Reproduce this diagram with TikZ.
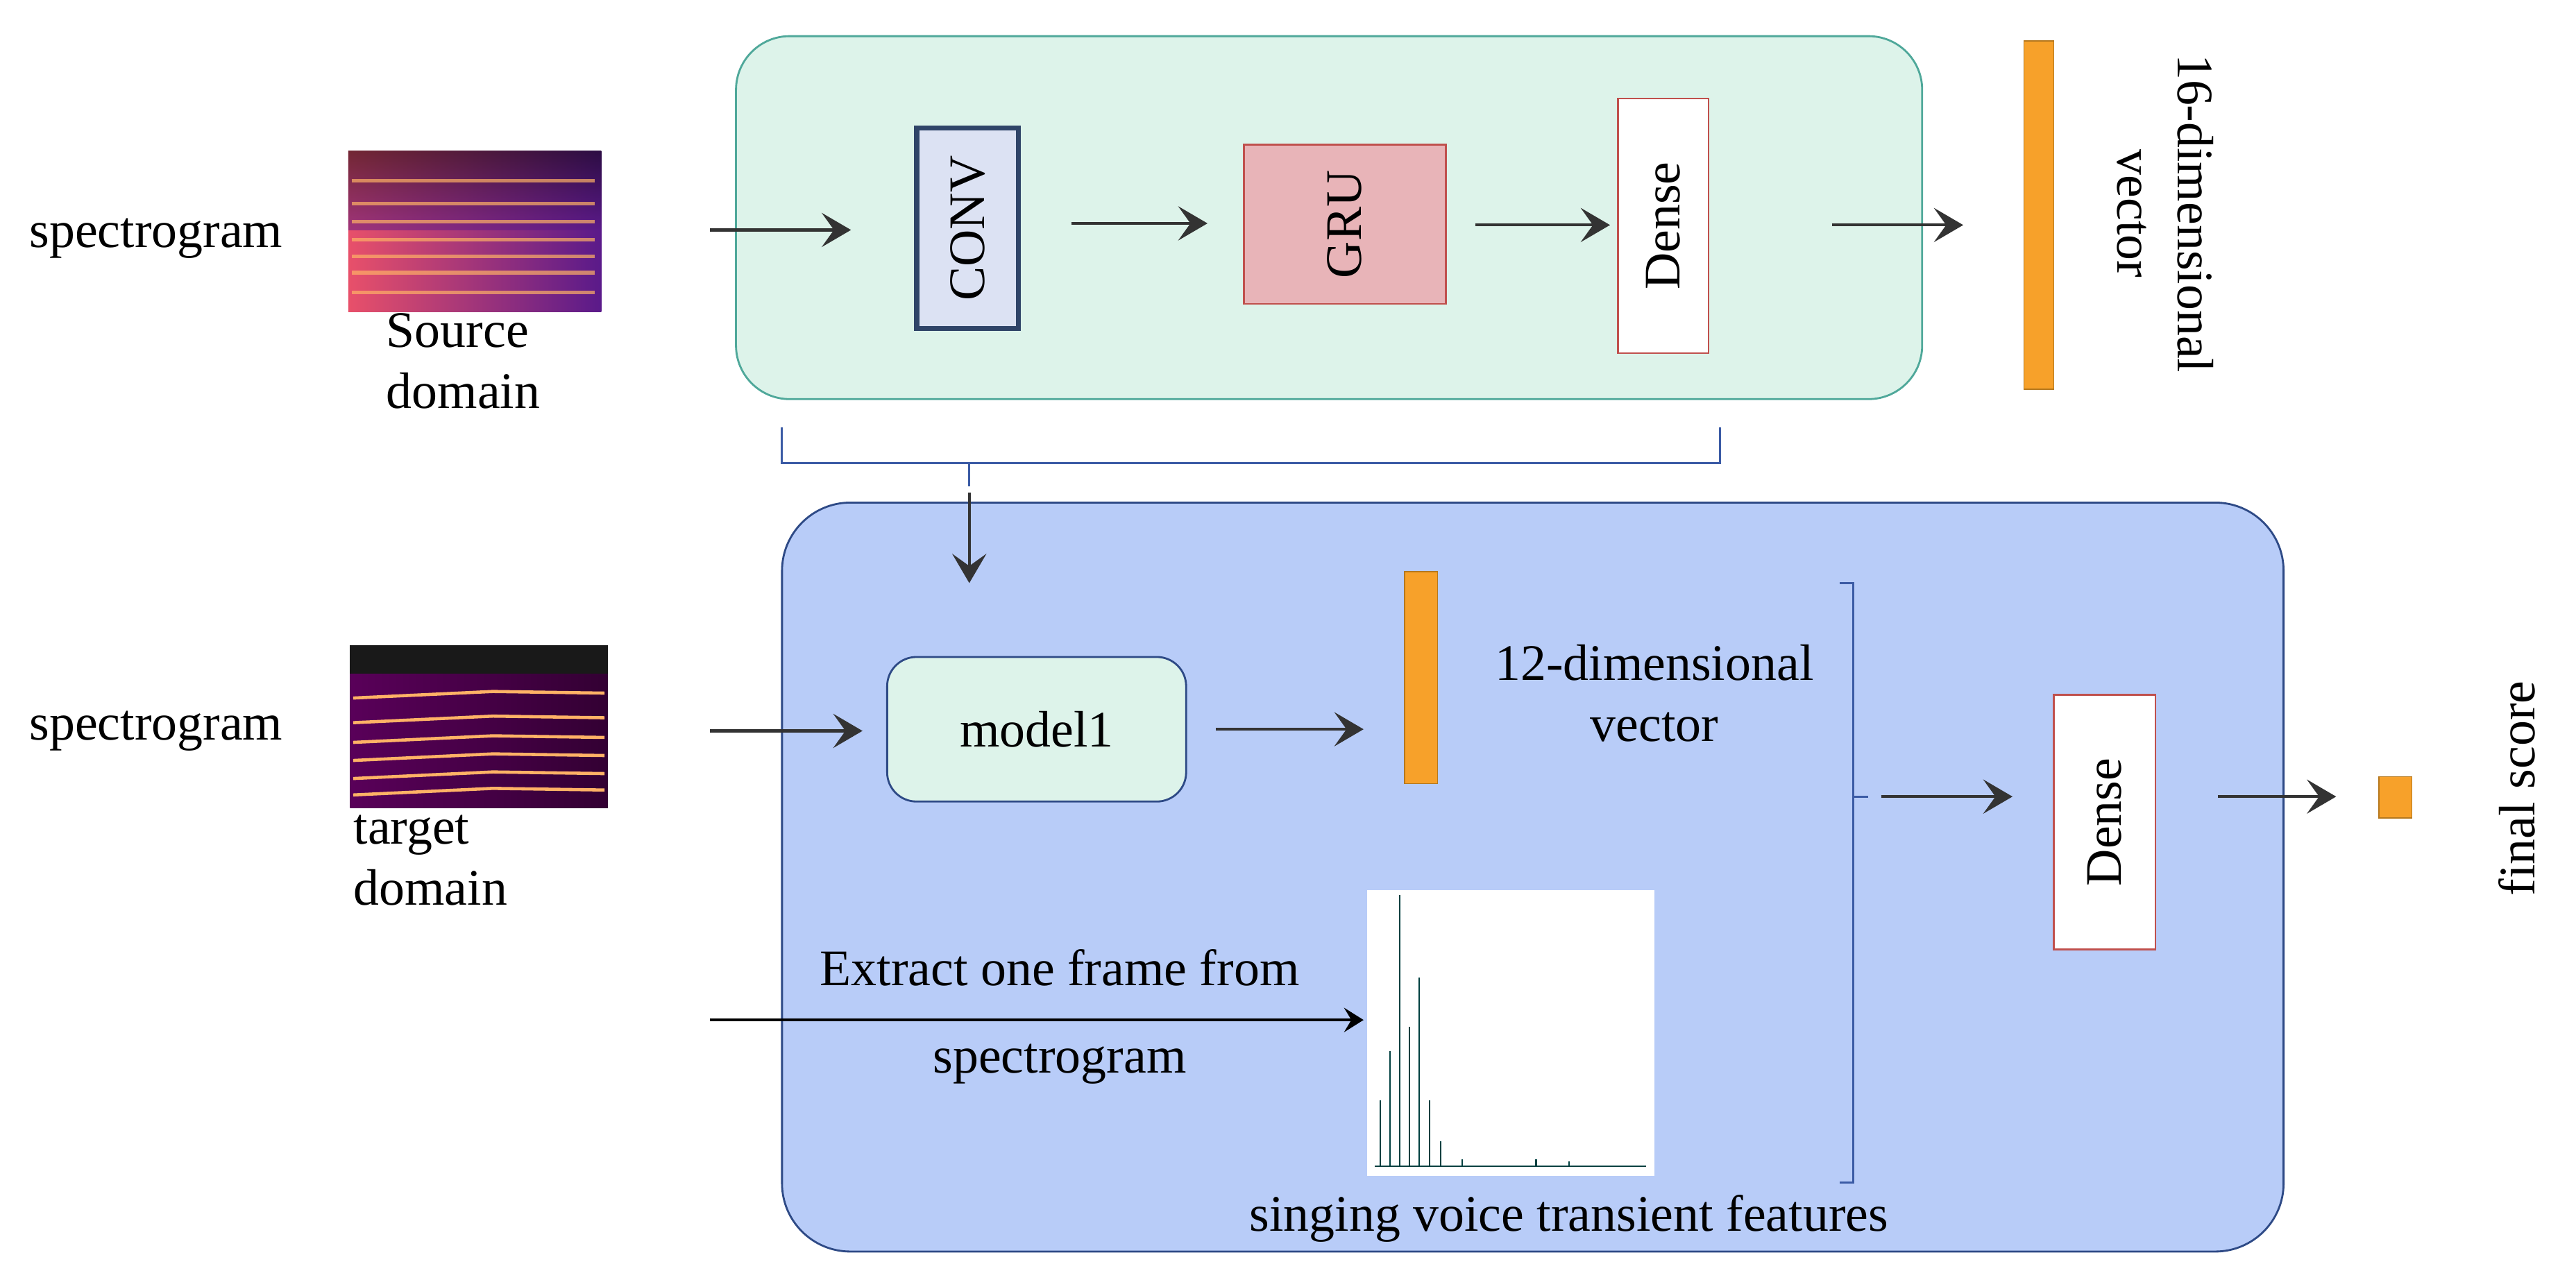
\documentclass[tikz,border=0pt]{standalone}
\usepackage{fontspec}
\setmainfont{Liberation Serif}
\usetikzlibrary{arrows.meta}
\tikzset{>={Stealth[length=12pt,width=14pt,inset=5pt]}}
\definecolor{topgreen}{HTML}{DDF3EA}
\definecolor{topedge}{HTML}{4FA89A}
\definecolor{botblue}{HTML}{B8CCF8}
\definecolor{botedge}{HTML}{2E4A86}
\definecolor{convfill}{HTML}{DCE2F3}
\definecolor{convedge}{HTML}{2F4468}
\definecolor{grufill}{HTML}{E8B4B8}
\definecolor{gruedge}{HTML}{C0504D}
\definecolor{barorange}{HTML}{F7A12A}
\definecolor{barorangeedge}{HTML}{B5781E}
\definecolor{brktblue}{HTML}{3B5BA5}
\definecolor{specA}{HTML}{E8506A}
\definecolor{specB}{HTML}{5A1A8A}

\begin{document}
\begin{tikzpicture}[x=0.02367cm,y=-0.02367cm,
    every node/.style={font=\fontsize{21}{25}\selectfont},
    layer/.style={draw,thick,minimum width=#1,inner sep=0pt},
    bar/.style={fill=barorange,draw=barorangeedge,inner sep=0pt},
    flow/.style={->,line width=1.2pt,draw=black!80}]
\useasboundingbox (0,0) rectangle (1568,773.5);

% boxes
\node (top) [draw=topedge,fill=topgreen,rounded corners=22pt,thick,minimum width=722*0.02367cm,minimum height=221*0.02367cm] at (809,132.5) {};
\node (bot) [draw=botedge,fill=botblue,rounded corners=28pt,thick,minimum width=914*0.02367cm,minimum height=456*0.02367cm] at (933,534) {};

% spectrograms
\begin{scope}
\shade[left color=specA,right color=specB] (212,92) rectangle (366,190);
\shade[top color=black,bottom color=specB,opacity=.5] (212,92) rectangle (366,140);
\foreach \yy in {110,124,135,146,156,166,178}
  \draw[orange!60!white,opacity=.7,line width=1.5pt] (214,\yy) -- (362,\yy);
\end{scope}
\node (spec1) [minimum width=154*0.02367cm,minimum height=98*0.02367cm] at (289,141) {};
\begin{scope}
\shade[left color=violet!70!black,right color=violet!40!black] (213,393) rectangle (370,492);
\fill[black!90] (213,393) rectangle (370,410);
\foreach \yy in {425,440,452,463,474,484}
  \draw[orange!60!white,line width=1.3pt] (215,\yy) -- (300,\yy-4) -- (368,\yy-3);
\end{scope}
\node (spec2) [minimum width=157*0.02367cm,minimum height=99*0.02367cm] at (291.5,442.5) {};

\node (lab1) at (95,145) {spectrogram};
\node (lab2) at (95,445) {spectrogram};
\node (src) [align=left] at (282,220) {Source\\domain};
\node (tgt) [align=left] at (262,524) {target\\domain};

% top branch
\node (conv) [layer=62*0.02367cm,draw=convedge,fill=convfill,line width=2pt,minimum height=122*0.02367cm] at (589,139) {};
\node at (conv.center) [rotate=90] {CONV};
\node (gru) [layer=123*0.02367cm,draw=gruedge,fill=grufill,minimum height=97*0.02367cm] at (818.5,136.5) {};
\node at (gru.center) [rotate=90] {GRU};
\node (dense1) [layer=55*0.02367cm,draw=gruedge,fill=white,minimum height=155*0.02367cm] at (1012.5,137.5) {};
\node at (dense1.center) [rotate=90] {Dense};
\node (vec16) [bar,minimum width=18*0.02367cm,minimum height=212*0.02367cm] at (1241,131) {};
\node (txt16) [rotate=-90,align=center] at (1318,130) {16-dimensional\\vector};

\draw[flow] (432,140) -- (518,140);
\draw[flow] (652,136) -- (735,136);
\draw[flow] (898,137) -- (980,137);
\draw[flow] (1115,137) -- (1195,137);

% brace
\draw[brktblue,thick] (476,260) -- (476,282) -- (1047,282) -- (1047,260);
\draw[brktblue,thick] (590,282) -- (590,296);
\draw[flow] (590,300) -- (590,355);

% bottom branch
\node (model) [draw=botedge,fill=topgreen,rounded corners=12pt,thick,minimum width=182*0.02367cm,minimum height=88*0.02367cm] at (631,444) {model1};
\node (vec12) [bar,minimum width=20*0.02367cm,minimum height=129*0.02367cm] at (865,412.5) {};
\node (txt12) [align=center] at (1007,422) {12-dimensional\\vector};
\draw[flow] (432,445) -- (525,445);
\draw[flow] (740,444) -- (830,444);

\draw[brktblue,thick] (1120,355) -- (1128,355) -- (1128,720) -- (1120,720);
\draw[brktblue,thick] (1128,485) -- (1137,485);
\node (dense2) [layer=62*0.02367cm,draw=gruedge,fill=white,minimum height=155*0.02367cm] at (1281,500.5) {};
\node at (dense2.center) [rotate=90] {Dense};
\draw[flow] (1145,485) -- (1225,485);
\node (score) [bar,minimum width=20*0.02367cm,minimum height=25*0.02367cm] at (1458,485.5) {};
\node (txtscore) [rotate=90] at (1532,480) {final score};
\draw[flow] (1350,485) -- (1422,485);

% frame plot
\fill[white] (832,542) rectangle (1007,716);
\foreach \px/\ph in {840/40,846/70,852/165,858/85,864/115,870/40,877/15,890/4,935/4,955/3}
  \draw[teal!50!black,line width=.6pt] (\px,710) -- (\px,710-\ph);
\draw[teal!50!black,line width=.6pt] (837,710) -- (1002,710);
\node (plot) [minimum width=175*0.02367cm,minimum height=174*0.02367cm] at (919.5,629) {};
\coordinate (plotin) at (830,621);
\draw[line width=1pt,->,>={Stealth[length=8pt,width=10pt,inset=3pt]}] (432,621) -- (plotin);
\node (ext) at (645,589) {Extract one frame from};
\node (ext2) at (645,648) {spectrogram};
\node (feat) at (955,742) {singing voice transient features};
\end{tikzpicture}
\end{document}
